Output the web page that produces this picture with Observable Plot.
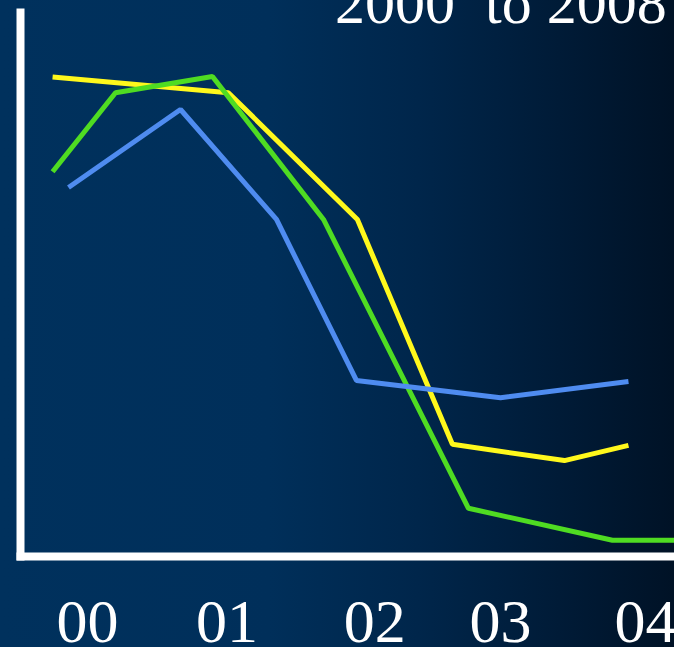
<!DOCTYPE html>
<html>
<head>
<meta charset="utf-8">
<script src="https://cdn.jsdelivr.net/npm/d3@7"></script>
<script src="https://cdn.jsdelivr.net/npm/@observablehq/plot@0.6"></script>
<style>
  html, body { margin: 0; padding: 0; }
  #wrap {
    position: relative; width: 674px; height: 647px; overflow: hidden;
    background: linear-gradient(to right, #00315d 0%, #002f5a 40%, #00264b 62%, #001a35 85%, #001226 100%);
  }
  #title {
    position: absolute; left: 335px; top: -27px; white-space: pre;
    font-family: "Liberation Serif", "Times New Roman", Tinos, "DejaVu Serif", serif;
    font-size: 60px; line-height: 60px; color: #fff;
  }
  #chart { position: absolute; left: 0; top: 0; }
  #chart svg text { font-family: "Liberation Serif", "Times New Roman", Tinos, "DejaVu Serif", serif; }
</style>
</head>
<body>
<div id="wrap">
  <div id="chart"></div>
  <div id="title">2000  to 2008</div>
</div>
<script>
// x in years since 2000, y in relative units (0–100)
const tickLabels = ["00", "01", "02", "03", "04"];
const tickPositions = [0, 1.0, 2.06, 2.96, 4.0];

const yellowX = [-0.25, 1.01, 1.935, 2.616, 3.419, 3.878];
const yellowY = [88.5, 85.6, 62.2, 20.7, 17.7, 20.5];

const greenX = [-0.25, 0.201, 0.896, 1.692, 2.731, 3.763, 4.208];
const greenY = [71.0, 85.6, 88.6, 62.2, 8.9, 3.0, 3.0];

const blueX = [-0.136, 0.667, 1.355, 1.928, 2.961, 3.878];
const blueY = [68.1, 82.5, 62.2, 32.5, 29.3, 32.3];

const series = [
  {name: "yellow", xs: yellowX, ys: yellowY, color: "#fff81c"},
  {name: "green", xs: greenX, ys: greenY, color: "#4fdc22"},
  {name: "blue", xs: blueX, ys: blueY, color: "#4f8cf0"}
];
const rows = series.flatMap(s => s.xs.map((x, i) => ({series: s.name, x, y: s.ys[i], color: s.color})));

const chart = Plot.plot({
  width: 674,
  height: 647,
  marginLeft: 20,
  marginRight: 0,
  marginTop: 12,
  marginBottom: 91,
  style: {background: "transparent", fontFamily: "'Liberation Serif', 'Times New Roman', Tinos, 'DejaVu Serif', serif", color: "white", overflow: "visible"},
  x: {domain: [-0.48, 4.208]},
  y: {domain: [0, 100.4]},
  marks: [
    Plot.axisX({
      ticks: tickPositions,
      tickFormat: (d, i) => tickLabels[i],
      tickSize: 0,
      tickPadding: 41,
      fontSize: 62,
      fill: "white",
      label: null
    }),
    Plot.axisY({ticks: [], label: null}),
    ...series.map(s => Plot.line(rows.filter(r => r.series === s.name), {
      x: "x", y: "y", stroke: s.color, strokeWidth: 5,
      strokeLinecap: "butt", strokeLinejoin: "miter", curve: "linear"
    })),
    Plot.frame({anchor: "left", stroke: "white", strokeWidth: 8}),
    Plot.frame({anchor: "bottom", stroke: "white", strokeWidth: 8})
  ]
});
document.getElementById("chart").appendChild(chart);
</script>
</body>
</html>
